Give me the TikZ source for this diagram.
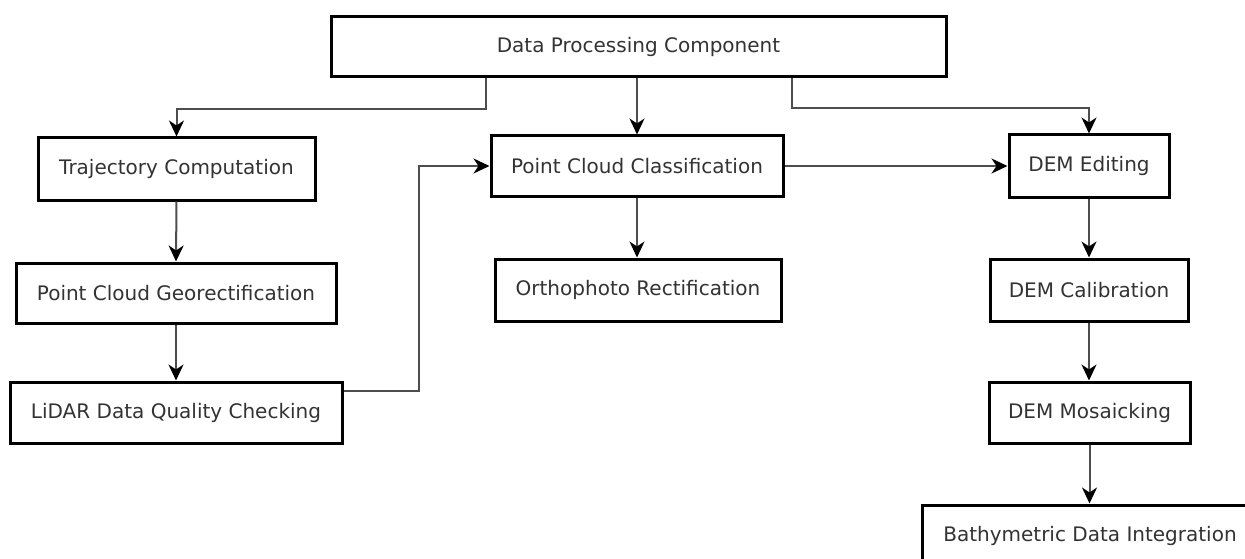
\documentclass[tikz,border=0pt]{standalone}
\usepackage{fontspec}
\setmainfont{DejaVu Sans}
\usetikzlibrary{arrows.meta,calc}
\definecolor{txt}{HTML}{333333}
\definecolor{conn}{HTML}{4d4d4d}
\tikzset{
  box/.style={draw=black, line width=3pt, fill=white, inner sep=0pt, text=txt,
    font=\fontsize{20}{23}\selectfont},
  conn/.style={draw=conn, line width=2pt,
    -{Stealth[length=16pt, width=15pt, inset=5pt, color=black]}},
}
\begin{document}
\begin{tikzpicture}[x=1pt, y=-1pt]
\useasboundingbox (0,0) rectangle (1245,559);
\clip (0,0) rectangle (1245,559);
\fill[white] (0,0) rectangle (1245,559);
% nodes: center (x,y), width, height
\node[box, minimum width=615pt, minimum height=60pt] (dpc) at (638.5,47) {Data Processing Component};
\node[box, minimum width=277pt, minimum height=62pt] (traj) at (176.5,169) {Trajectory Computation};
\node[box, minimum width=320pt, minimum height=60pt] (geo) at (176,293) {Point Cloud Georectification};
\node[box, minimum width=332pt, minimum height=61pt] (lidar) at (176,412.5) {LiDAR Data Quality Checking};
\node[box, minimum width=292pt, minimum height=60pt] (pcc) at (637,166) {Point Cloud Classification};
\node[box, minimum width=286pt, minimum height=62pt] (ortho) at (638,290) {Orthophoto Rectification};
\node[box, minimum width=160pt, minimum height=62pt] (edit) at (1089,166) {DEM Editing};
\node[box, minimum width=198pt, minimum height=62pt] (calib) at (1089,290) {DEM Calibration};
\node[box, minimum width=201pt, minimum height=61pt] (mosaic) at (1089.5,412.5) {DEM Mosaicking};
\node[box, minimum width=336pt, minimum height=62pt] (bathy) at (1090,536) {Bathymetric Data Integration};
% connectors
\draw[conn] ([xshift=-152.5pt]dpc.south) -- ++(0,31) -| (traj.north);
\draw[conn] ([xshift=-1.5pt]dpc.south) -- ([xshift=-1.5pt]dpc.south |- pcc.north);
\draw[conn] ([xshift=153.5pt]dpc.south) -- ++(0,30) -| (edit.north);
\draw[conn] (traj.south) -- (geo.north);
\draw[conn] (geo.south) -- (lidar.north);
\draw[conn] ([yshift=21.5pt]lidar.east) -- ++(75,0) |- (pcc.west);
\draw[conn] (pcc.east) -- (edit.west);
\draw[conn] (pcc.south) -- (pcc.south |- ortho.north);
\draw[conn] (edit.south) -- (edit.south |- calib.north);
\draw[conn] (calib.south) -- (calib.south |- mosaic.north);
\draw[conn] (mosaic.south) -- (mosaic.south |- bathy.north);
\end{tikzpicture}
\end{document}
